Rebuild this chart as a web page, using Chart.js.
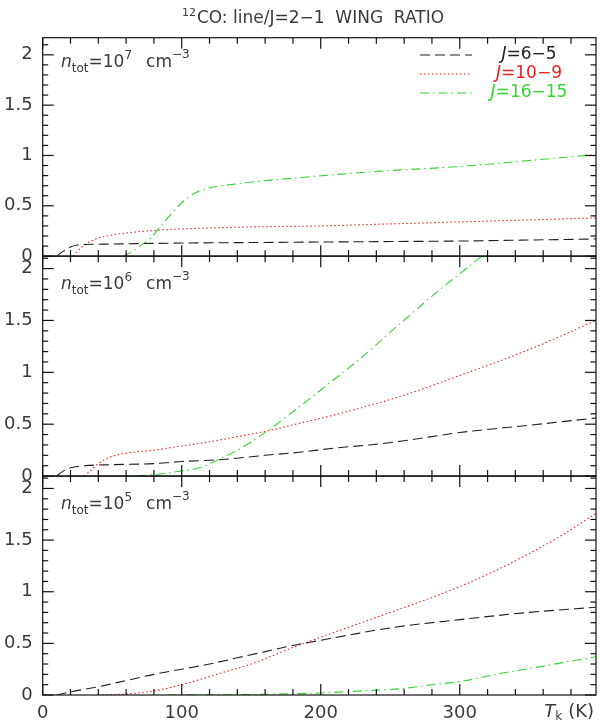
<!DOCTYPE html>
<html><head><meta charset="utf-8">
<script src="https://cdn.jsdelivr.net/npm/chart.js@4/dist/chart.umd.min.js"></script>
<style>html,body{margin:0;padding:0;background:#fff;}#wrap{width:600px;height:724px;position:relative;}</style>
</head><body><div id="wrap"><canvas id="c" width="600" height="724"></canvas></div>
<script>
// ---------- data ----------
const seriesNames = ['6\u22125', '10\u22129', '16\u221215']; // J = upper-lower
const panelDensityExp = ['7', '6', '5'];
const xTickValues = [0, 100, 200, 300];
const yTickValues = [0, 0.5, 1, 1.5, 2];

// n_tot = 1e7
const tk_7_65 = [10,15,20,25,30,50,100,150,200,250,300,350,398];
const r_7_65  = [0,0.05,0.09,0.11,0.115,0.12,0.13,0.135,0.14,0.145,0.15,0.16,0.17];
const tk_7_109 = [22,25,30,35,40,50,60,80,100,150,200,250,300,350,398];
const r_7_109  = [0,0.05,0.11,0.15,0.18,0.21,0.23,0.255,0.27,0.29,0.30,0.32,0.34,0.36,0.38];
const tk_7_1615 = [58,65,70,77,85,95,100,110,120,135,160,185,210,250,300,350,398];
const r_7_1615  = [0,0.05,0.1,0.17,0.3,0.46,0.53,0.63,0.68,0.71,0.75,0.78,0.81,0.85,0.89,0.95,1.01];

// n_tot = 1e6
const tk_6_65 = [10,15,20,30,50,80,100,130,160,185,210,235,260,300,350,398];
const r_6_65  = [0,0.05,0.08,0.1,0.11,0.12,0.14,0.16,0.2,0.23,0.27,0.3,0.34,0.42,0.49,0.56];
const tk_6_109 = [30,35,40,45,50,60,80,100,120,140,160,185,210,235,260,300,350,398];
const r_6_109  = [0,0.06,0.12,0.16,0.19,0.22,0.25,0.29,0.33,0.38,0.43,0.51,0.59,0.68,0.78,0.97,1.22,1.5];
const tk_6_1615 = [55,70,85,100,113,125,140,161,180,200,230,257,286,316];
const r_6_1615  = [0,0.005,0.02,0.05,0.08,0.15,0.25,0.43,0.62,0.83,1.15,1.47,1.8,2.12];

// n_tot = 1e5
const tk_5_65 = [10,20,40,60,80,100,120,140,160,180,200,220,250,300,350,398];
const r_5_65  = [0,0.03,0.08,0.14,0.2,0.25,0.3,0.36,0.42,0.48,0.53,0.58,0.65,0.73,0.8,0.85];
const tk_5_109 = [40,60,80,100,113,130,150,180,200,225,250,275,300,325,350,375,398];
const r_5_109  = [0,0.01,0.04,0.1,0.15,0.22,0.3,0.46,0.56,0.68,0.8,0.92,1.05,1.2,1.37,1.56,1.76];
const tk_5_1615 = [90,150,200,230,257,280,300,330,360,398];
const r_5_1615  = [0,0.005,0.02,0.04,0.06,0.1,0.13,0.21,0.28,0.37];

// ---------- styling ----------
const FONT = '"DejaVu Sans", "Liberation Sans", sans-serif';
const TEXT = '#3a3a3a';
const styles = [
  {color:'#1e1e1e', dash:[10,5]},
  {color:'#ee2222', dash:[1.5,2.5]},
  {color:'#33d633', dash:[9,4,1.5,4]}
];
function pts(xs, ys){ return xs.map((x,i)=>({x:x, y:ys[i]})); }
function ds(xs, ys, k, axis){
  return {label: seriesNames[k], data: pts(xs, ys), yAxisID: axis,
    borderColor: styles[k].color, borderDash: styles[k].dash, borderWidth: 1.1,
    pointRadius: 0, fill: false, cubicInterpolationMode: 'monotone'};
}
const datasets = [
  ds(tk_7_65, r_7_65, 0, 'yTop'), ds(tk_7_109, r_7_109, 1, 'yTop'), ds(tk_7_1615, r_7_1615, 2, 'yTop'),
  ds(tk_6_65, r_6_65, 0, 'yMid'), ds(tk_6_109, r_6_109, 1, 'yMid'), ds(tk_6_1615, r_6_1615, 2, 'yMid'),
  ds(tk_5_65, r_5_65, 0, 'yBot'), ds(tk_5_109, r_5_109, 1, 'yBot'), ds(tk_5_1615, r_5_1615, 2, 'yBot')
];

function yScale(max, weight){
  return {type:'linear', position:'left', stack:'panels', stackWeight: weight,
    min:0, max:max,
    afterBuildTicks: s => { s.ticks = yTickValues.map(v => ({value: v})); },
    ticks:{autoSkip:false, font:{family:FONT, size:18}, color:TEXT, padding:10,
      callback: v => String(v)},
    grid:{display:false, drawTicks:false}, border:{display:false},
    afterFit: s => { s.width = 42.7; }};
}

function line(ctx,x1,y1,x2,y2){ ctx.beginPath(); ctx.moveTo(x1,y1); ctx.lineTo(x2,y2); ctx.stroke(); }

const framePlugin = {
  id:'frame',
  afterDraw(chart){
    const ctx = chart.ctx, xs = chart.scales.x, a = chart.chartArea;
    ctx.save();
    ctx.strokeStyle = '#111'; ctx.lineWidth = 1.2; ctx.setLineDash([]);
    ['yTop','yMid','yBot'].forEach(id => {
      const ys = chart.scales[id];
      ctx.strokeRect(a.left, ys.top, a.right - a.left, ys.bottom - ys.top);
      for (let k = 0; k * 0.1 <= ys.max + 1e-9; k++) {
        const py = ys.getPixelForValue(k * 0.1);
        const len = (k % 5 === 0) ? 11 : 5.5;
        line(ctx, a.left, py, a.left + len, py);
        line(ctx, a.right, py, a.right - len, py);
      }
      for (let t = 0; t <= xs.max; t += 20) {
        const px = xs.getPixelForValue(t);
        const len = (t % 100 === 0) ? 11 : 6;
        line(ctx, px, ys.bottom, px, ys.bottom - len);
        line(ctx, px, ys.top, px, ys.top + len);
      }
    });
    ctx.restore();
  }
};

function fontOf(p){ return (p.it ? 'italic ' : '') + (p.size || 17) + 'px ' + FONT; }
function drawParts(ctx, x, y, parts, align){
  const w = parts.map(p => { ctx.font = fontOf(p); return ctx.measureText(p.t).width + (p.gap || 0); });
  const total = w.reduce((s,v)=>s+v, 0);
  let cx = align === 'center' ? x - total/2 : (align === 'right' ? x - total : x);
  parts.forEach((p,i) => { ctx.font = fontOf(p); ctx.fillStyle = p.color || TEXT; ctx.fillText(p.t, cx, y + (p.dy || 0)); cx += w[i]; });
}

const textPlugin = {
  id:'texts',
  afterDraw(chart){
    const ctx = chart.ctx;
    ctx.save();
    ctx.textBaseline = 'middle';
    // title
    drawParts(ctx, 313, 19, [
      {t:'12', size:11, dy:-6, gap:1},
      {t:'CO: line/J=2\u22121  WING  RATIO', size:17}
    ], 'center');
    // panel labels
    const labelY = [63, 285, 505];
    labelY.forEach((y, i) => {
      drawParts(ctx, 61, y, [
        {t:'n', it:true, size:17},
        {t:'tot', size:12, dy:6},
        {t:'=10', size:17},
        {t:panelDensityExp[i], size:12, dy:-7, gap:14},
        {t:'cm', size:17},
        {t:'\u22123', size:12, dy:-8}
      ], 'left');
    });
    // legend
    const rows = [55, 74, 93];
    rows.forEach((ry, k) => {
      ctx.strokeStyle = styles[k].color; ctx.lineWidth = 1.1; ctx.setLineDash(styles[k].dash);
      line(ctx, 420, ry, 472, ry);
      ctx.setLineDash([]);
      drawParts(ctx, 529, ry, [
        {t:'J', it:true, size:17, color: k===0 ? '#222' : styles[k].color},
        {t:'=' + seriesNames[k], size:17, color: k===0 ? '#222' : styles[k].color}
      ], 'center');
    });
    // x title
    drawParts(ctx, 594, 712, [
      {t:'T', it:true, size:18},
      {t:'k', size:12, dy:5, gap:6},
      {t:'(K)', size:18}
    ], 'right');
    ctx.restore();
  }
};

new Chart(document.getElementById('c'), {
  type:'line',
  data:{datasets: datasets},
  options:{
    responsive:false, animation:false, devicePixelRatio:1,
    layout:{padding:{top:37.7, left:0, right:4, bottom:0}},
    plugins:{legend:{display:false}, title:{display:false}, tooltip:{enabled:false}},
    scales:{
      x:{type:'linear', min:0, max:398,
        afterBuildTicks: s => { s.ticks = xTickValues.map(v => ({value: v})); },
        ticks:{autoSkip:false, maxRotation:0, minRotation:0,
          font:{family:FONT, size:18}, color:TEXT, padding:8,
          callback: v => String(v)},
        grid:{display:false, drawTicks:false}, border:{display:false},
        afterFit: s => { s.height = 29; }},
      yBot: yScale(2.12, 219),
      yMid: yScale(2.12, 220),
      yTop: yScale(2.17, 218.5)
    }
  },
  plugins:[framePlugin, textPlugin]
});
</script></body></html>
